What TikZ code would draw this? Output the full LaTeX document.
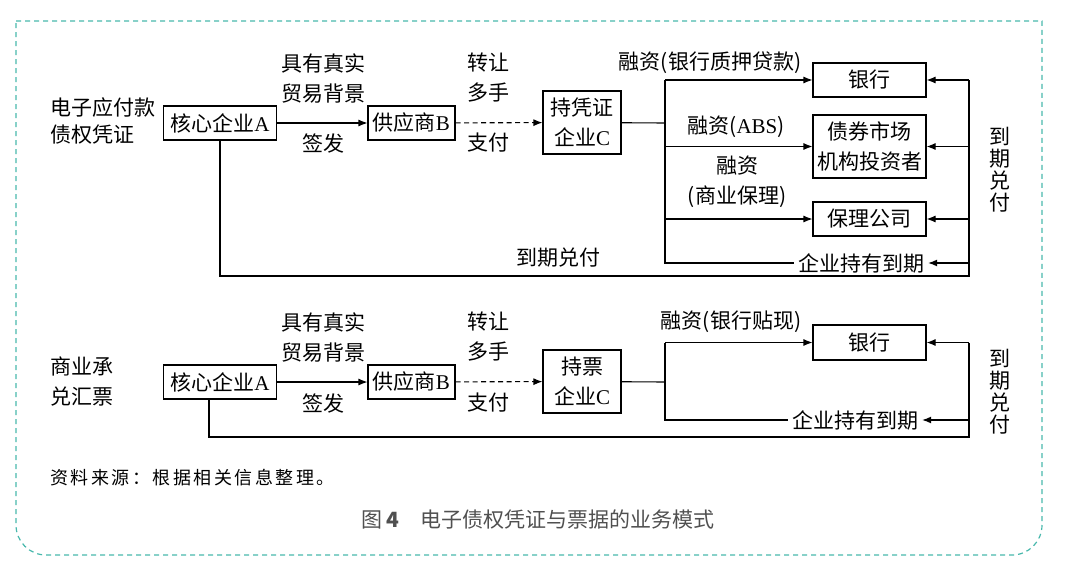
\documentclass[tikz,border=0pt]{standalone}
\usepackage{fontspec}
\setmainfont{Noto Sans CJK SC}
\newfontfamily\latf{Liberation Serif}
\newfontfamily\srcf{Noto Sans CJK SC}[LetterSpace=14]
\usetikzlibrary{arrows.meta}
\usetikzlibrary{calc}
\definecolor{frameteal}{RGB}{72,184,172}
\definecolor{capgray}{RGB}{80,80,80}
\tikzset{blk/.style={draw, line width=1.1pt, minimum width=113pt, minimum height=34pt, inner sep=2pt, align=center}, note/.style={inner sep=0pt, align=center}, post/.style={-{Latex[length=9pt,width=7pt]}, line width=1.1pt}, dpost/.style={post, dash pattern=on 5pt off 3.5pt}, wire/.style={line width=1.1pt}}

\begin{document}
\begin{tikzpicture}[x=1pt, y=-1pt, font=\fontsize{21}{30}\selectfont]
  \useasboundingbox (0,0) rectangle (1080,578);

  % frame
  \draw[frameteal, line width=1.2pt, dash pattern=on 5pt off 4pt] (16,21) -- (1042,21) -- (1042,525) arc[start angle=0, end angle=-90, radius=30pt] -- (46,555) arc[start angle=-90, end angle=-180, radius=30pt] -- cycle;

  % electronic voucher
  \node[note, anchor=west, align=left, font=\fontsize{21}{27}\selectfont] (tag1) at (50,121) {电子应付款\\债权凭证};
  \node[blk] (a1) at (220,123) {核心企业{\latf A}};
  \node[blk, minimum width=87pt] (b1) at (411.5,123) {供应商{\latf B}};
  \node[blk, minimum width=78pt, minimum height=63pt] (c1) at (582,122.5) {持凭证\\企业{\latf C}};
  \node[blk] (bank1) at (869.5,80) {银行};
  \node[blk, minimum height=63pt] (bond1) at (869.5,146.5) {债券市场\\机构投资者};
  \node[blk] (fac1) at (869.5,219) {保理公司};
  \node[note, inner xsep=4pt] (hold1) at (861,263) {企业持有到期};
  \coordinate (j1) at (665,123);
  \coordinate (r1) at (969,276);

  \node[note] (trade1) at (323,78) {具有真实\\贸易背景};
  \node[note] (issue1) at (323,143) {签发};
  \node[note] (xfer1) at (488,78) {转让\\多手};
  \node[note] (pay1) at (488,143) {支付};
  \node[note] (loan1) at (710,63) {融资(银行质押贷款)};
  \node[note] (abs1) at (736,127) {融资({\latf ABS})};
  \node[note] (fct1) at (737,182) {融资\\(商业保理)};
  \node[note] (due1) at (558,258) {到期兑付};
  \node[note, font=\fontsize{21}{22}\selectfont] (cash1) at (1000,170) {到\\期\\兑\\付};

  \draw[post] (a1) -- (b1);
  \draw[dpost] (b1) -- (c1);
  \draw[wire] (c1) -- (j1);
  \draw[wire] (j1 |- bank1) -- (j1 |- hold1) -- (hold1);
  \draw[post] (j1 |- bank1) -- (bank1);
  \draw[post] (j1 |- bond1) -- (bond1);
  \draw[post] (j1 |- fac1) -- (fac1);
  \draw[wire] (a1) |- (r1) -- (r1 |- bank1);
  \draw[post] (r1 |- bank1) -- (bank1);
  \draw[post] (r1 |- bond1) -- (bond1);
  \draw[post] (r1 |- fac1) -- (fac1);
  \draw[post] (r1 |- hold1) -- (hold1);

  % commercial acceptance bill
  \node[note, anchor=west, align=left] (tag2) at (50,381) {商业承\\兑汇票};
  \node[blk] (a2) at (220,382) {核心企业{\latf A}};
  \node[blk, minimum width=87pt] (b2) at (411.5,382) {供应商{\latf B}};
  \node[blk, minimum width=78pt, minimum height=63pt] (c2) at (582,381.5) {持票\\企业{\latf C}};
  \node[blk, minimum height=35pt] (bank2) at (869.5,342.5) {银行};
  \node[note, inner xsep=4pt] (hold2) at (855,420) {企业持有到期};
  \coordinate (j2) at (665,382);
  \coordinate (r2) at (969,437);

  \node[note] (trade2) at (323,337) {具有真实\\贸易背景};
  \node[note] (issue2) at (323,403) {签发};
  \node[note] (xfer2) at (488,337) {转让\\多手};
  \node[note] (pay2) at (488,403) {支付};
  \node[note] (loan2) at (731,322) {融资(银行贴现)};
  \node[note, font=\fontsize{21}{22}\selectfont] (cash2) at (1000,392) {到\\期\\兑\\付};

  \draw[post] (a2) -- (b2);
  \draw[dpost] (b2) -- (c2);
  \draw[wire] (c2) -- (j2);
  \draw[wire] (j2 |- bank2) -- (j2 |- hold2) -- (hold2);
  \draw[post] (j2 |- bank2) -- (bank2);
  \draw[wire] ([xshift=-11pt]a2.south) |- (r2) -- (r2 |- bank2);
  \draw[post] (r2 |- bank2) -- (bank2);
  \draw[post] (r2 |- hold2) -- (hold2);

  % source and caption
  \node[note, anchor=west, font=\fontsize{18}{20}\srcf] (src) at (50,478) {资料来源：根据相关信息整理。};
  \node[note, text=capgray] (cap) at (538,520) {图 \textbf{4}\quad 电子债权凭证与票据的业务模式};
\end{tikzpicture}
\end{document}
